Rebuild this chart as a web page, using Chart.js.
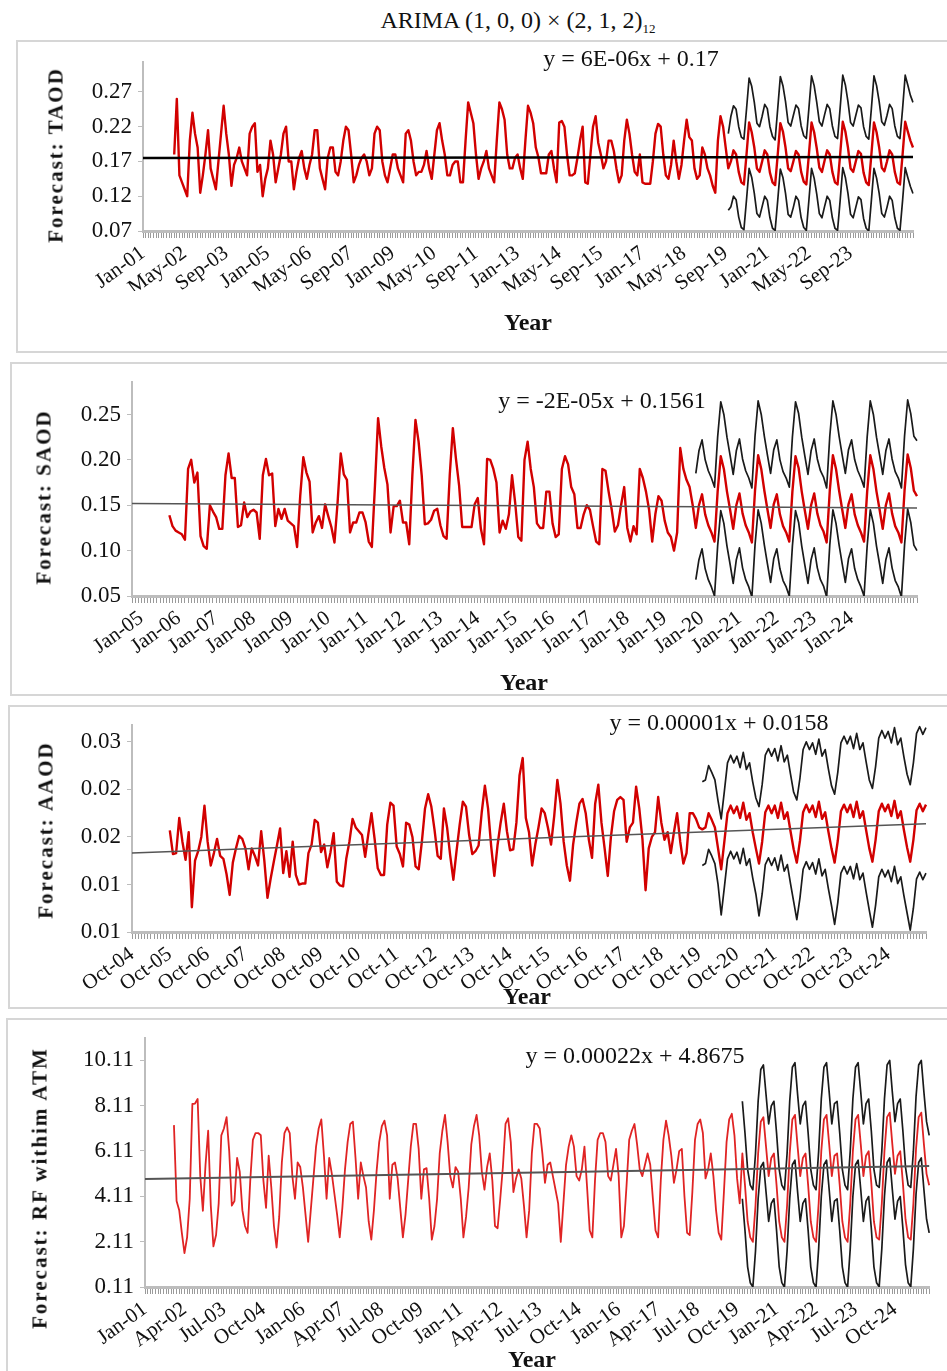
<!DOCTYPE html>
<html>
<head>
<meta charset="utf-8">
<script src="https://cdn.jsdelivr.net/npm/chart.js@4.4.1/dist/chart.umd.min.js"></script>
<style>
  html, body { margin: 0; padding: 0; background: #fff; }
  #page { position: relative; width: 947px; height: 1371px; overflow: hidden;
          font-family: 'Liberation Serif', 'Times New Roman', serif; color: #111; }
  .box { position: absolute; border: 2px solid #d6d6d6; box-sizing: border-box; }
  .cv { position: absolute; left: 0; }
  .txt { position: absolute; white-space: nowrap; transform: translate(-50%, -50%); }
  .ytitle { position: absolute; white-space: nowrap; transform: translate(-50%, -50%) rotate(-90deg);
            font-weight: bold; font-size: 21px; letter-spacing: 2px; }
  .year { font-weight: bold; font-size: 24px; }
  .eq { font-size: 24px; }
  .title { font-size: 24px; }
  .title sub { font-size: 13px; }
</style>
</head>
<body>
<div id="page">
  <div class="txt title" style="left:518px;top:22px;">ARIMA (1, 0, 0) × (2, 1, 2)<sub>12</sub></div>

  <div class="box" style="left:16px;top:40px;width:940px;height:313px;"></div>
  <canvas id="c1" class="cv" style="top:40px;"></canvas>
  <div class="txt eq" style="left:631px;top:58px;">y = 6E-06x + 0.17</div>
  <div class="ytitle" style="left:56px;top:155px;">Forecast: TAOD</div>
  <div class="txt year" style="left:528px;top:322px;">Year</div>

  <div class="box" style="left:10px;top:362px;width:946px;height:334px;"></div>
  <canvas id="c2" class="cv" style="top:362px;"></canvas>
  <div class="txt eq" style="left:602px;top:400px;">y = -2E-05x + 0.1561</div>
  <div class="ytitle" style="left:44px;top:497px;">Forecast: SAOD</div>
  <div class="txt year" style="left:524px;top:682px;">Year</div>

  <div class="box" style="left:8px;top:705px;width:948px;height:304px;"></div>
  <canvas id="c3" class="cv" style="top:705px;"></canvas>
  <div class="txt eq" style="left:719px;top:722px;">y = 0.00001x + 0.0158</div>
  <div class="ytitle" style="left:46px;top:830px;">Forecast: AAOD</div>
  <div class="txt year" style="left:527px;top:996px;">Year</div>

  <div class="box" style="left:6px;top:1018px;width:950px;height:380px;"></div>
  <canvas id="c4" class="cv" style="top:1018px;"></canvas>
  <div class="txt eq" style="left:635px;top:1055px;">y = 0.00022x + 4.8675</div>
  <div class="ytitle" style="left:40px;top:1188px;">Forecast: RF withim ATM</div>
  <div class="txt year" style="left:532px;top:1359px;">Year</div>
</div>

<script>
const MONTHS = ["Jan","Feb","Mar","Apr","May","Jun","Jul","Aug","Sep","Oct","Nov","Dec"];

/***********************
 * PANEL 1 : TAOD  (months from Jan-01)
 ***********************/
const taodXLabels = ["Jan-01","May-02","Sep-03","Jan-05","May-06","Sep-07","Jan-09","May-10","Sep-11",
  "Jan-13","May-14","Sep-15","Jan-17","May-18","Sep-19","Jan-21","May-22","Sep-23"];
const taodYTicks = [0.07, 0.12, 0.17, 0.22, 0.27];
const taodTrend = [0.175, 0.1765];
const taodActual = [
  0.18,0.26,0.15,0.14,0.13,0.12,0.20,0.24,0.21,0.19,0.125,0.15,
  0.18,0.215,0.16,0.145,0.13,0.17,0.21,0.25,0.21,0.18,0.135,0.165,
  0.175,0.19,0.17,0.16,0.15,0.21,0.22,0.225,0.155,0.165,0.12,0.145,
  0.16,0.2,0.18,0.14,0.16,0.18,0.21,0.22,0.17,0.17,0.13,0.155,
  0.175,0.185,0.16,0.145,0.165,0.18,0.215,0.215,0.16,0.145,0.13,0.175,
  0.19,0.19,0.155,0.15,0.17,0.2,0.22,0.215,0.18,0.14,0.15,0.165,
  0.175,0.18,0.17,0.15,0.16,0.21,0.22,0.215,0.17,0.15,0.14,0.16,
  0.18,0.18,0.16,0.15,0.14,0.21,0.215,0.2,0.17,0.15,0.155,0.155,
  0.165,0.185,0.16,0.145,0.18,0.215,0.225,0.2,0.18,0.15,0.15,0.165,
  0.17,0.17,0.14,0.14,0.2,0.255,0.24,0.225,0.18,0.145,0.16,0.17,
  0.185,0.16,0.15,0.14,0.2,0.255,0.245,0.23,0.18,0.16,0.16,0.175,
  0.18,0.16,0.145,0.2,0.25,0.24,0.225,0.19,0.176,0.153,0.153,0.153,
  0.18,0.185,0.16,0.14,0.226,0.228,0.22,0.18,0.15,0.15,0.153,0.175,
  0.2,0.22,0.14,0.138,0.18,0.22,0.235,0.197,0.18,0.16,0.17,0.2,
  0.2,0.185,0.16,0.14,0.15,0.2,0.23,0.21,0.18,0.155,0.15,0.18,
  0.14,0.138,0.138,0.138,0.17,0.21,0.224,0.22,0.18,0.15,0.145,0.165,
  0.2,0.17,0.145,0.165,0.2,0.23,0.205,0.2,0.16,0.145,0.15,0.19,
  0.18,0.16,0.15,0.135,0.125,0.2,0.235,0.22,0.19
];
const taodForecast = [
  0.16,0.17,0.186,
  0.18,0.155,0.14,0.137,0.18,0.226,0.212,0.19,0.16,0.155,0.17,0.186,
  0.18,0.154,0.14,0.136,0.18,0.225,0.213,0.19,0.16,0.156,0.17,0.185,
  0.18,0.155,0.141,0.137,0.181,0.226,0.212,0.189,0.161,0.155,0.171,0.186,
  0.18,0.155,0.14,0.137,0.18,0.227,0.213,0.19,0.16,0.155,0.17,0.185,
  0.181,0.154,0.14,0.136,0.18,0.226,0.212,0.19,0.161,0.156,0.17,0.186,
  0.18,0.155,0.14,0.137,0.18,0.227,0.213,0.2,0.19
];
const taodUpper = [
  0.21,0.235,0.25,
  0.245,0.22,0.205,0.202,0.245,0.29,0.278,0.255,0.225,0.22,0.235,0.252,
  0.246,0.22,0.206,0.201,0.246,0.292,0.279,0.256,0.226,0.221,0.236,0.251,
  0.246,0.221,0.207,0.203,0.247,0.293,0.279,0.255,0.227,0.221,0.237,0.252,
  0.246,0.221,0.206,0.203,0.247,0.294,0.28,0.256,0.226,0.221,0.236,0.251,
  0.247,0.22,0.206,0.202,0.246,0.293,0.279,0.256,0.227,0.222,0.236,0.252,
  0.246,0.221,0.206,0.203,0.246,0.294,0.28,0.265,0.255
];
const taodLower = [
  0.1,0.105,0.12,
  0.115,0.09,0.075,0.072,0.115,0.16,0.147,0.124,0.095,0.09,0.105,0.12,
  0.114,0.089,0.074,0.071,0.114,0.159,0.147,0.124,0.094,0.09,0.104,0.12,
  0.114,0.089,0.075,0.071,0.115,0.16,0.146,0.123,0.095,0.089,0.105,0.12,
  0.114,0.089,0.074,0.071,0.114,0.161,0.147,0.124,0.094,0.089,0.104,0.119,
  0.115,0.088,0.074,0.07,0.114,0.16,0.146,0.124,0.095,0.09,0.104,0.12,
  0.114,0.089,0.074,0.071,0.114,0.161,0.147,0.134,0.124
];

/***********************
 * PANEL 2 : SAOD  (months from Oct-04)
 ***********************/
const saodXLabels = ["Jan-05","Jan-06","Jan-07","Jan-08","Jan-09","Jan-10","Jan-11","Jan-12","Jan-13","Jan-14",
  "Jan-15","Jan-16","Jan-17","Jan-18","Jan-19","Jan-20","Jan-21","Jan-22","Jan-23","Jan-24"];
const saodYTicks = [0.05, 0.10, 0.15, 0.20, 0.25];
const saodTrend = [0.152, 0.147];
const saodActual = [
  0.139,0.127,0.122,0.12,0.118,0.112,0.19,0.2,0.175,0.186,0.116,0.105,
  0.102,0.15,0.143,0.137,0.124,0.124,0.183,0.207,0.18,0.18,0.126,0.128,
  0.153,0.137,0.143,0.145,0.142,0.113,0.183,0.201,0.183,0.185,0.127,0.146,
  0.135,0.146,0.133,0.13,0.127,0.104,0.16,0.203,0.186,0.176,0.12,0.131,
  0.138,0.125,0.151,0.138,0.126,0.109,0.153,0.207,0.184,0.178,0.12,0.131,
  0.131,0.142,0.142,0.131,0.11,0.104,0.172,0.246,0.215,0.191,0.173,0.12,
  0.149,0.149,0.155,0.131,0.131,0.107,0.183,0.244,0.22,0.183,0.129,0.13,
  0.134,0.144,0.146,0.128,0.116,0.113,0.183,0.235,0.201,0.172,0.126,0.126,
  0.126,0.126,0.151,0.158,0.124,0.107,0.201,0.2,0.19,0.175,0.12,0.133,
  0.124,0.14,0.183,0.153,0.115,0.111,0.2,0.22,0.19,0.17,0.13,0.125,
  0.125,0.165,0.165,0.13,0.115,0.118,0.19,0.204,0.195,0.17,0.162,0.125,
  0.125,0.14,0.15,0.145,0.127,0.11,0.107,0.19,0.188,0.165,0.145,0.121,
  0.128,0.15,0.17,0.125,0.11,0.127,0.118,0.19,0.18,0.165,0.145,0.11,
  0.14,0.16,0.155,0.133,0.12,0.115,0.1,0.12,0.213,0.19,0.178,0.17,
  0.15
];
const saodForecast = [
  0.125,0.15,0.162,0.14,0.128,0.12,0.11,0.165,0.204,0.19,0.165,0.145,
  0.124,0.15,0.163,0.141,0.128,0.12,0.109,0.166,0.205,0.19,0.166,0.145,
  0.125,0.151,0.162,0.14,0.127,0.12,0.11,0.165,0.204,0.191,0.165,0.144,
  0.124,0.15,0.163,0.141,0.128,0.121,0.109,0.166,0.205,0.19,0.166,0.145,
  0.125,0.151,0.162,0.14,0.128,0.12,0.11,0.165,0.205,0.19,0.165,0.145,
  0.124,0.15,0.163,0.141,0.127,0.12,0.109,0.166,0.206,0.191,0.166,0.16
];
const saodUpper = [
  0.185,0.21,0.222,0.2,0.188,0.18,0.17,0.225,0.264,0.25,0.225,0.205,
  0.184,0.21,0.223,0.201,0.188,0.18,0.169,0.226,0.265,0.25,0.226,0.205,
  0.185,0.211,0.222,0.2,0.187,0.18,0.17,0.225,0.264,0.251,0.225,0.204,
  0.184,0.21,0.223,0.201,0.188,0.181,0.169,0.226,0.265,0.25,0.226,0.205,
  0.185,0.211,0.222,0.2,0.188,0.18,0.17,0.225,0.265,0.25,0.225,0.205,
  0.184,0.21,0.223,0.201,0.187,0.18,0.169,0.226,0.266,0.251,0.226,0.221
];
const saodLower = [
  0.068,0.09,0.102,0.08,0.068,0.06,0.05,0.105,0.144,0.13,0.105,0.085,
  0.064,0.09,0.103,0.081,0.068,0.06,0.049,0.106,0.145,0.13,0.106,0.085,
  0.065,0.091,0.102,0.08,0.067,0.06,0.05,0.105,0.144,0.131,0.105,0.084,
  0.064,0.09,0.103,0.081,0.068,0.061,0.049,0.106,0.145,0.13,0.106,0.085,
  0.065,0.091,0.102,0.08,0.068,0.06,0.05,0.105,0.145,0.13,0.105,0.085,
  0.064,0.09,0.103,0.081,0.067,0.06,0.049,0.106,0.146,0.131,0.106,0.1
];

/***********************
 * PANEL 3 : AAOD  (months from Oct-04)
 ***********************/
const aaodXLabels = ["Oct-04","Oct-05","Oct-06","Oct-07","Oct-08","Oct-09","Oct-10","Oct-11","Oct-12","Oct-13",
  "Oct-14","Oct-15","Oct-16","Oct-17","Oct-18","Oct-19","Oct-20","Oct-21","Oct-22","Oct-23","Oct-24"];
const aaodYTicks = [0.008, 0.013, 0.018, 0.023, 0.028];
const aaodTrend = [0.0163, 0.0194];
const aaodActual = [
  0.0187,0.0162,0.0163,0.02,0.0175,0.0156,0.0185,0.0106,0.0155,0.0165,0.018,0.0213,
  0.0175,0.015,0.0163,0.0178,0.016,0.0157,0.0141,0.0119,0.0153,0.0168,0.0181,0.0178,
  0.0168,0.0146,0.0168,0.016,0.015,0.0186,0.0155,0.0116,0.0136,0.0154,0.0171,0.0189,
  0.0142,0.0165,0.0138,0.0175,0.014,0.013,0.0131,0.0131,0.0163,0.0172,0.0198,0.0195,
  0.0164,0.0172,0.0148,0.0164,0.0184,0.0133,0.0129,0.0128,0.0157,0.0175,0.0199,0.019,
  0.0186,0.0182,0.0159,0.0183,0.0205,0.0178,0.0147,0.014,0.014,0.0193,0.0216,0.0213,
  0.017,0.0162,0.0149,0.0195,0.0193,0.018,0.0149,0.0146,0.0175,0.021,0.0225,0.0212,
  0.0188,0.016,0.0157,0.021,0.019,0.016,0.0135,0.0165,0.0193,0.0217,0.0212,0.0182,
  0.0162,0.0165,0.0171,0.0206,0.0234,0.021,0.017,0.0139,0.0171,0.0195,0.0215,0.0186,
  0.0166,0.0167,0.0195,0.0245,0.0263,0.02,0.0185,0.015,0.0172,0.019,0.021,0.0205,
  0.019,0.0172,0.0202,0.024,0.0215,0.0175,0.015,0.0134,0.0172,0.0195,0.0215,0.022,
  0.0205,0.0177,0.0158,0.0215,0.0235,0.0195,0.0168,0.0139,0.018,0.0207,0.0219,0.0222,
  0.0219,0.0175,0.019,0.0195,0.0233,0.021,0.0178,0.0124,0.0168,0.018,0.0185,0.0222,
  0.0195,0.0177,0.0185,0.0163,0.0185,0.0205,0.0175,0.0152,0.0163,0.0205,0.0205,0.0199,
  0.019
];
const aaodForecast = [
  0.0188,0.019,0.0205,0.0198,0.019,0.0168,
  0.0146,0.0175,0.0205,0.0213,0.0205,0.0212,0.02,0.0216,0.0198,0.0205,0.0185,0.0168,
  0.0152,0.0175,0.0206,0.0213,0.0205,0.0213,0.02,0.0216,0.0199,0.0206,0.0186,0.0167,
  0.0153,0.0176,0.0206,0.0214,0.0206,0.0213,0.0201,0.0217,0.0199,0.0206,0.0186,0.0168,
  0.0153,0.0176,0.0207,0.0214,0.0206,0.0214,0.0201,0.0217,0.02,0.0207,0.0187,0.0168,
  0.0154,0.0177,0.0207,0.0215,0.0207,0.0214,0.0202,0.0218,0.02,0.0207,0.0187,0.0169,
  0.0154,0.0177,0.0208,0.0215,0.0207,0.0214
];
const aaodUpper = [
  0.0238,0.024,0.0255,0.0248,0.024,0.0218,
  0.0199,0.0228,0.0258,0.0266,0.0258,0.0265,0.0253,0.0269,0.0251,0.0258,0.0238,0.0221,
  0.0212,0.0235,0.0266,0.0273,0.0265,0.0273,0.026,0.0276,0.0259,0.0266,0.0246,0.0227,
  0.0219,0.0242,0.0272,0.028,0.0272,0.0279,0.0267,0.0283,0.0265,0.0272,0.0252,0.0234,
  0.0225,0.0248,0.0279,0.0286,0.0278,0.0286,0.0273,0.0289,0.0272,0.0279,0.0259,0.024,
  0.0231,0.0254,0.0284,0.0292,0.0284,0.0291,0.0279,0.0295,0.0277,0.0284,0.0264,0.0246,
  0.0235,0.0258,0.0289,0.0296,0.0288,0.0295
];
const aaodLower = [
  0.015,0.0152,0.0167,0.016,0.0152,0.013,
  0.0098,0.0127,0.0157,0.0165,0.0157,0.0164,0.0152,0.0168,0.015,0.0157,0.0137,0.012,
  0.0097,0.012,0.0151,0.0158,0.015,0.0158,0.0145,0.0161,0.0144,0.0151,0.0131,0.0112,
  0.0093,0.0116,0.0146,0.0154,0.0146,0.0153,0.0141,0.0157,0.0139,0.0146,0.0126,0.0108,
  0.0088,0.0111,0.0142,0.0149,0.0141,0.0149,0.0136,0.0152,0.0135,0.0142,0.0122,0.0103,
  0.0085,0.0108,0.0138,0.0146,0.0138,0.0145,0.0133,0.0149,0.0131,0.0138,0.0118,0.01,
  0.0082,0.0105,0.0136,0.0143,0.0135,0.0142
];

/***********************
 * PANEL 4 : RF within ATM  (months from Jan-01)
 ***********************/
const rfXLabels = ["Jan-01","Apr-02","Jul-03","Oct-04","Jan-06","Apr-07","Jul-08","Oct-09","Jan-11","Apr-12",
  "Jul-13","Oct-14","Jan-16","Apr-17","Jul-18","Oct-19","Jan-21","Apr-22","Jul-23","Oct-24"];
const rfYTicks = [0.11, 2.11, 4.11, 6.11, 8.11, 10.11];
const rfTrend = [4.87, 5.45];
const rfActual = [
  7.25,
  3.9,3.5,2.5,1.6,2.3,4.0,8.18,8.2,8.4,5.0,3.47,5.5,
  7.0,3.7,1.9,2.4,3.8,6.8,7.1,7.6,6.1,3.7,3.9,5.8,
  5.2,3.5,2.8,2.5,4.8,6.6,6.9,6.9,6.8,4.8,3.6,5.9,
  4.5,2.8,1.85,3.2,5.6,6.9,7.15,6.9,5.0,4.0,5.6,5.4,
  4.5,3.3,2.1,3.5,4.9,6.3,7.1,7.5,5.9,4.0,5.8,5.1,
  4.2,3.3,2.3,3.6,5.3,6.5,7.3,7.4,5.8,4.0,5.6,5.0,
  4.5,3.0,2.2,3.5,5.2,6.5,7.2,7.45,6.8,4.0,5.5,5.6,
  4.9,3.6,2.3,3.3,4.8,6.3,7.3,7.3,6.2,4.0,5.3,5.35,
  4.0,2.2,2.8,4.0,6.0,7.0,7.7,6.5,5.0,4.5,5.4,5.2,
  4.0,2.3,3.2,4.5,6.4,7.2,7.7,6.8,5.2,4.4,5.4,6.0,
  4.8,2.8,2.7,4.0,5.4,7.3,7.55,6.5,4.3,4.9,5.3,4.9,
  3.7,2.3,3.5,6.0,7.3,7.3,7.1,6.0,4.7,5.5,5.6,5.0,
  4.4,3.8,2.1,3.8,5.5,6.3,6.8,6.3,5.0,4.8,5.3,6.3,
  4.5,2.6,2.3,4.8,6.6,6.9,6.9,6.5,5.0,4.8,5.5,6.2,
  5.0,2.3,2.8,4.6,6.6,7.0,7.3,6.4,5.3,5.0,5.5,6.0,
  5.5,4.0,2.6,2.3,4.8,6.6,7.45,6.8,5.9,4.7,5.3,6.1,
  6.2,4.1,2.5,2.4,4.3,6.6,7.3,7.5,6.9,4.9,5.3,6.0,
  5.0,3.5,2.5,2.2,4.3,6.5,7.5,7.75,6.8,4.9,3.8
];
const rfForecast = [
  6.0,4.6,3.0,2.3,
  2.1,3.7,6.0,7.4,7.6,6.3,5.0,5.8,6.0,4.6,3.0,2.3,
  2.1,3.7,6.0,7.5,7.7,6.3,5.0,5.8,6.0,4.6,3.0,2.3,
  2.1,3.8,6.1,7.5,7.7,6.4,5.0,5.9,6.0,4.6,3.0,2.3,
  2.1,3.8,6.1,7.5,7.7,6.4,5.0,5.9,6.1,4.7,3.0,2.3,
  2.2,3.8,6.1,7.6,7.8,6.4,5.1,5.9,6.1,4.7,3.1,2.3,
  2.2,3.8,6.2,7.6,7.8,6.4,5.1,4.6
];
const rfUpper = [
  8.3,6.9,5.3,4.6,
  4.4,6.0,8.3,9.7,9.9,8.6,7.3,8.1,8.3,6.9,5.3,4.6,
  4.4,6.0,8.3,9.8,10.0,8.6,7.3,8.1,8.3,6.9,5.3,4.6,
  4.4,6.1,8.4,9.8,10.0,8.7,7.3,8.2,8.3,6.9,5.3,4.6,
  4.4,6.1,8.4,9.8,10.0,8.7,7.3,8.2,8.4,7.0,5.3,4.6,
  4.5,6.1,8.4,9.9,10.1,8.7,7.4,8.2,8.4,7.0,5.4,4.6,
  4.5,6.1,8.5,9.9,10.1,8.7,7.4,6.8
];
const rfLower = [
  4.0,2.6,1.0,0.3,
  0.11,1.7,4.0,5.4,5.6,4.3,3.0,3.8,4.0,2.6,1.0,0.3,
  0.1,1.7,4.0,5.5,5.7,4.3,3.0,3.8,4.0,2.6,1.0,0.3,
  0.1,1.8,4.1,5.5,5.7,4.4,3.0,3.9,4.0,2.6,1.0,0.3,
  0.1,1.8,4.1,5.5,5.7,4.4,3.0,3.9,4.1,2.7,1.0,0.3,
  0.12,1.8,4.1,5.6,5.8,4.4,3.1,3.9,4.1,2.7,1.1,0.3,
  0.12,1.8,4.2,5.6,5.8,4.4,3.1,2.5
];

/***********************
 * HELPERS
 ***********************/
const FONT = "'Liberation Serif', 'Times New Roman', serif";

function monthCats(year, month, count) {
  const out = [];
  for (let k = 0; k < count; k++) {
    const m = (month + k) % 12;
    const y = (year + Math.floor((month + k) / 12)) % 100;
    out.push(MONTHS[m] + "-" + String(y).padStart(2, "0"));
  }
  return out;
}

function nulls(n) { return new Array(n).fill(null); }

function drawPanel(id, p) {
  const n = p.cats.length;
  const trend = nulls(n);
  trend[0] = p.trend[0];
  trend[n - 1] = p.trend[1];

  const canvas = document.getElementById(id);
  canvas.width = 947; canvas.height = p.height;
  canvas.style.width = "947px"; canvas.style.height = p.height + "px";

  new Chart(canvas, {
    type: "line",
    data: {
      labels: p.cats,
      datasets: [
        { data: trend, borderColor: p.trendColor, borderWidth: p.trendWidth, spanGaps: true },
        { data: nulls(p.redStart).concat(p.actual, p.forecast), borderColor: p.redColor, borderWidth: p.redWidth },
        { data: nulls(p.bandStart).concat(p.upper), borderColor: "#1a1a1a", borderWidth: 1.7 },
        { data: nulls(p.bandStart).concat(p.lower), borderColor: "#1a1a1a", borderWidth: 1.7 }
      ]
    },
    options: {
      responsive: false,
      animation: false,
      events: [],
      layout: { padding: { top: p.padTop, right: p.padRight, bottom: p.padBottom, left: 0 } },
      plugins: { legend: { display: false }, tooltip: { enabled: false } },
      elements: { point: { radius: 0 }, line: { tension: 0, borderJoinStyle: "round" } },
      scales: {
        x: {
          ticks: {
            autoSkip: false, maxRotation: 36, minRotation: 36, padding: 3,
            color: "#111", font: { family: FONT, size: 21 },
            callback: (v, i) => {
              const k = (i - p.labelFirst) / p.labelStep;
              return (Number.isInteger(k) && k >= 0 && k < p.xLabels.length) ? p.xLabels[k] : "";
            }
          },
          grid: { drawOnChartArea: false, drawTicks: true, tickLength: 7, color: "#9a9a9a", lineWidth: 1 },
          border: { display: true, color: "#bdbdbd", width: 3 },
          afterFit: s => { s.height = 60; }
        },
        y: {
          min: p.min, max: p.max,
          afterBuildTicks: s => { s.ticks = p.yTicks.map(v => ({ value: v })); },
          ticks: { color: "#111", padding: 6, font: { family: FONT, size: 23 }, callback: v => v.toFixed(2) },
          grid: { drawOnChartArea: false, drawTicks: true, tickLength: 5, color: "#bdbdbd" },
          border: { display: true, color: "#bdbdbd", width: 2 },
          afterFit: s => { s.width = p.axisLeft; }
        }
      }
    }
  });
}

/***********************
 * DRAW
 ***********************/
drawPanel("c1", {
  cats: monthCats(2001, 0, 297), xLabels: taodXLabels, labelFirst: 0, labelStep: 16,
  actual: taodActual, forecast: taodForecast, upper: taodUpper, lower: taodLower,
  redStart: 12, bandStart: 225, trend: taodTrend, yTicks: taodYTicks, min: 0.07, max: 0.313,
  height: 312, axisLeft: 143, padTop: 22, padRight: 34, padBottom: 61,
  redColor: "#d20000", redWidth: 2.4, trendColor: "#000", trendWidth: 2.5
});

drawPanel("c2", {
  cats: monthCats(2004, 9, 253), xLabels: saodXLabels, labelFirst: 3, labelStep: 12,
  actual: saodActual, forecast: saodForecast, upper: saodUpper, lower: saodLower,
  redStart: 12, bandStart: 181, trend: saodTrend, yTicks: saodYTicks, min: 0.05, max: 0.286,
  height: 333, axisLeft: 132, padTop: 18, padRight: 30, padBottom: 39,
  redColor: "#d20000", redWidth: 2.4, trendColor: "#555", trendWidth: 1.5
});

drawPanel("c3", {
  cats: monthCats(2004, 9, 253), xLabels: aaodXLabels, labelFirst: 0, labelStep: 12,
  actual: aaodActual, forecast: aaodForecast, upper: aaodUpper, lower: aaodLower,
  redStart: 12, bandStart: 181, trend: aaodTrend, yTicks: aaodYTicks, min: 0.008, max: 0.0298,
  height: 303, axisLeft: 132, padTop: 13, padRight: 21, padBottom: 16,
  redColor: "#d20000", redWidth: 2.4, trendColor: "#555", trendWidth: 1.5
});

drawPanel("c4", {
  cats: monthCats(2001, 0, 299), xLabels: rfXLabels, labelFirst: 0, labelStep: 15,
  actual: rfActual, forecast: rfForecast, upper: rfUpper, lower: rfLower,
  redStart: 11, bandStart: 227, trend: rfTrend, yTicks: rfYTicks, min: 0.11, max: 11.1,
  height: 353, axisLeft: 145, padTop: 12, padRight: 15, padBottom: 24,
  redColor: "#e02424", redWidth: 1.8, trendColor: "#555", trendWidth: 2
});
</script>
</body>
</html>
